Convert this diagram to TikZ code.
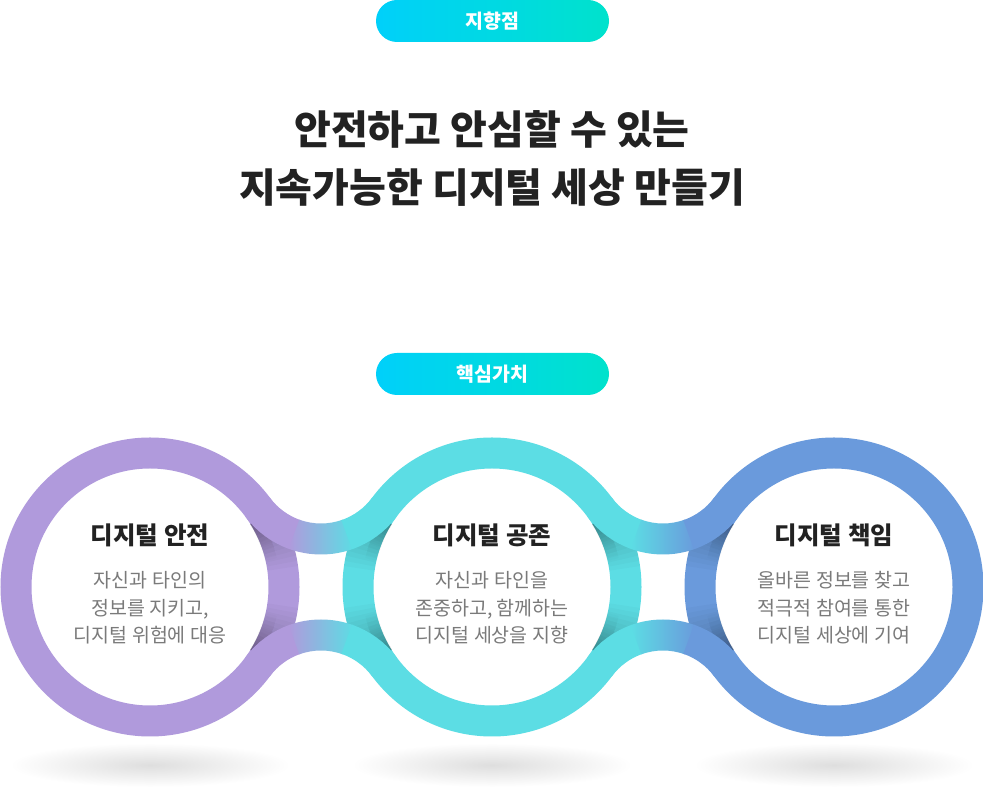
\documentclass[tikz,border=0pt]{standalone}
\usepackage{fontspec}
\setmainfont{Noto Sans CJK KR}
\usetikzlibrary{calc}

\definecolor{ringA}{RGB}{176,154,220}
\definecolor{ringB}{RGB}{92,221,228}
\definecolor{ringC}{RGB}{106,154,220}
\definecolor{pillL}{RGB}{0,208,250}
\definecolor{pillR}{RGB}{0,226,204}
\definecolor{headtxt}{RGB}{34,34,34}
\definecolor{desctxt}{RGB}{122,122,122}

% band joining two rings above / below the gap
\newcommand{\linktop}[3]{%
  \draw[band,#2] ($(#1)+(216.6:79)$) arc[start angle=216.6,end angle=251,radius=79];
  \shade[left color=#2,right color=#3] ($(#1)+(250:94.5)$) arc[start angle=250,end angle=290,radius=94.5]
    -- ($(#1)+(290:63.5)$) arc[start angle=290,end angle=250,radius=63.5] -- cycle;
  \draw[band,#3] ($(#1)+(289:79)$) arc[start angle=289,end angle=323.4,radius=79];
}
\newcommand{\linkbot}[3]{%
  \draw[band,#2] ($(#1)+(143.4:79)$) arc[start angle=143.4,end angle=109,radius=79];
  \shade[left color=#2,right color=#3] ($(#1)+(110:94.5)$) arc[start angle=110,end angle=70,radius=94.5]
    -- ($(#1)+(70:63.5)$) arc[start angle=70,end angle=110,radius=63.5] -- cycle;
  \draw[band,#3] ($(#1)+(71:79)$) arc[start angle=71,end angle=36.6,radius=79];
}
% shadow on a ring where a band passes over it
\newcommand{\ringshade}[3]{%
  \foreach \k in {1,...,12}{
    \draw[band,black,opacity=0.02] ($(#1)+(#2:134)$) arc[start angle=#2,delta angle={#3*2*\k},radius=134];
    \draw[line width=12pt,black,opacity=0.013] ($(#1)+(#2:124)$) arc[start angle=#2,delta angle={#3*1.6*\k},radius=124];
  }
}

\begin{document}
\begin{tikzpicture}[x=1pt,y=1pt,
  band/.style={line width=31pt},
  pill/.style={left color=pillL,right color=pillR,rounded corners=21pt},
  pilltext/.style={text=white,font=\fontsize{19.5}{22}\selectfont\bfseries},
  headline/.style={text=headtxt,align=center,font=\fontsize{40}{58}\selectfont\bfseries},
  valtitle/.style={text=headtxt,font=\fontsize{24.5}{28}\selectfont\bfseries},
  valdesc/.style={text=desctxt,align=center,font=\fontsize{19.5}{27.5}\selectfont}]
\fill[white] (0,0) rectangle (983,800);
\useasboundingbox (0,0) rectangle (983,800);

\coordinate (safe) at (150,213);
\coordinate (share) at (492,213);
\coordinate (duty) at (834,213);
\coordinate (gapAt) at (321,340);
\coordinate (gapAb) at (321,86);
\coordinate (gapBt) at (663,340);
\coordinate (gapBb) at (663,86);

% floor shadows
\shade[inner color=black!13,outer color=white] (150,35) ellipse [x radius=140,y radius=22];
\shade[inner color=black!13,outer color=white] (492,35) ellipse [x radius=140,y radius=22];
\shade[inner color=black!13,outer color=white] (834,35) ellipse [x radius=140,y radius=22];

% rings
\draw[band,ringA] (safe) circle (134);
\draw[band,ringB] (share) circle (134);
\draw[band,ringC] (duty) circle (134);

\ringshade{safe}{32}{-1}
\ringshade{safe}{-32}{1}
\ringshade{share}{148}{1}
\ringshade{share}{212}{-1}
\ringshade{share}{32}{-1}
\ringshade{share}{-32}{1}
\ringshade{duty}{148}{1}
\ringshade{duty}{212}{-1}

% bands between rings
\linktop{gapAt}{ringA}{ringB}
\linkbot{gapAb}{ringA}{ringB}
\linktop{gapBt}{ringB}{ringC}
\linkbot{gapBb}{ringB}{ringC}

% labels
\shade[pill] (376,758) rectangle (609,800);
\node[pilltext] (goal) at (492.5,779) {지향점};
\node[headline] (vision) at (492,642) {안전하고 안심할 수 있는\\지속가능한 디지털 세상 만들기};
\shade[pill] (376,405) rectangle (609,447);
\node[pilltext] (core) at (492.5,426) {핵심가치};

\node[valtitle] (safeT) at ($(safe)+(0,52)$) {디지털 안전};
\node[valdesc] (safeD) at ($(safe)+(0,-21)$) {자신과 타인의\\정보를 지키고,\\디지털 위험에 대응};
\node[valtitle] (shareT) at ($(share)+(0,52)$) {디지털 공존};
\node[valdesc] (shareD) at ($(share)+(0,-21)$) {자신과 타인을\\존중하고, 함께하는\\디지털 세상을 지향};
\node[valtitle] (dutyT) at ($(duty)+(0,52)$) {디지털 책임};
\node[valdesc] (dutyD) at ($(duty)+(0,-21)$) {올바른 정보를 찾고\\적극적 참여를 통한\\디지털 세상에 기여};
\end{tikzpicture}
\end{document}
